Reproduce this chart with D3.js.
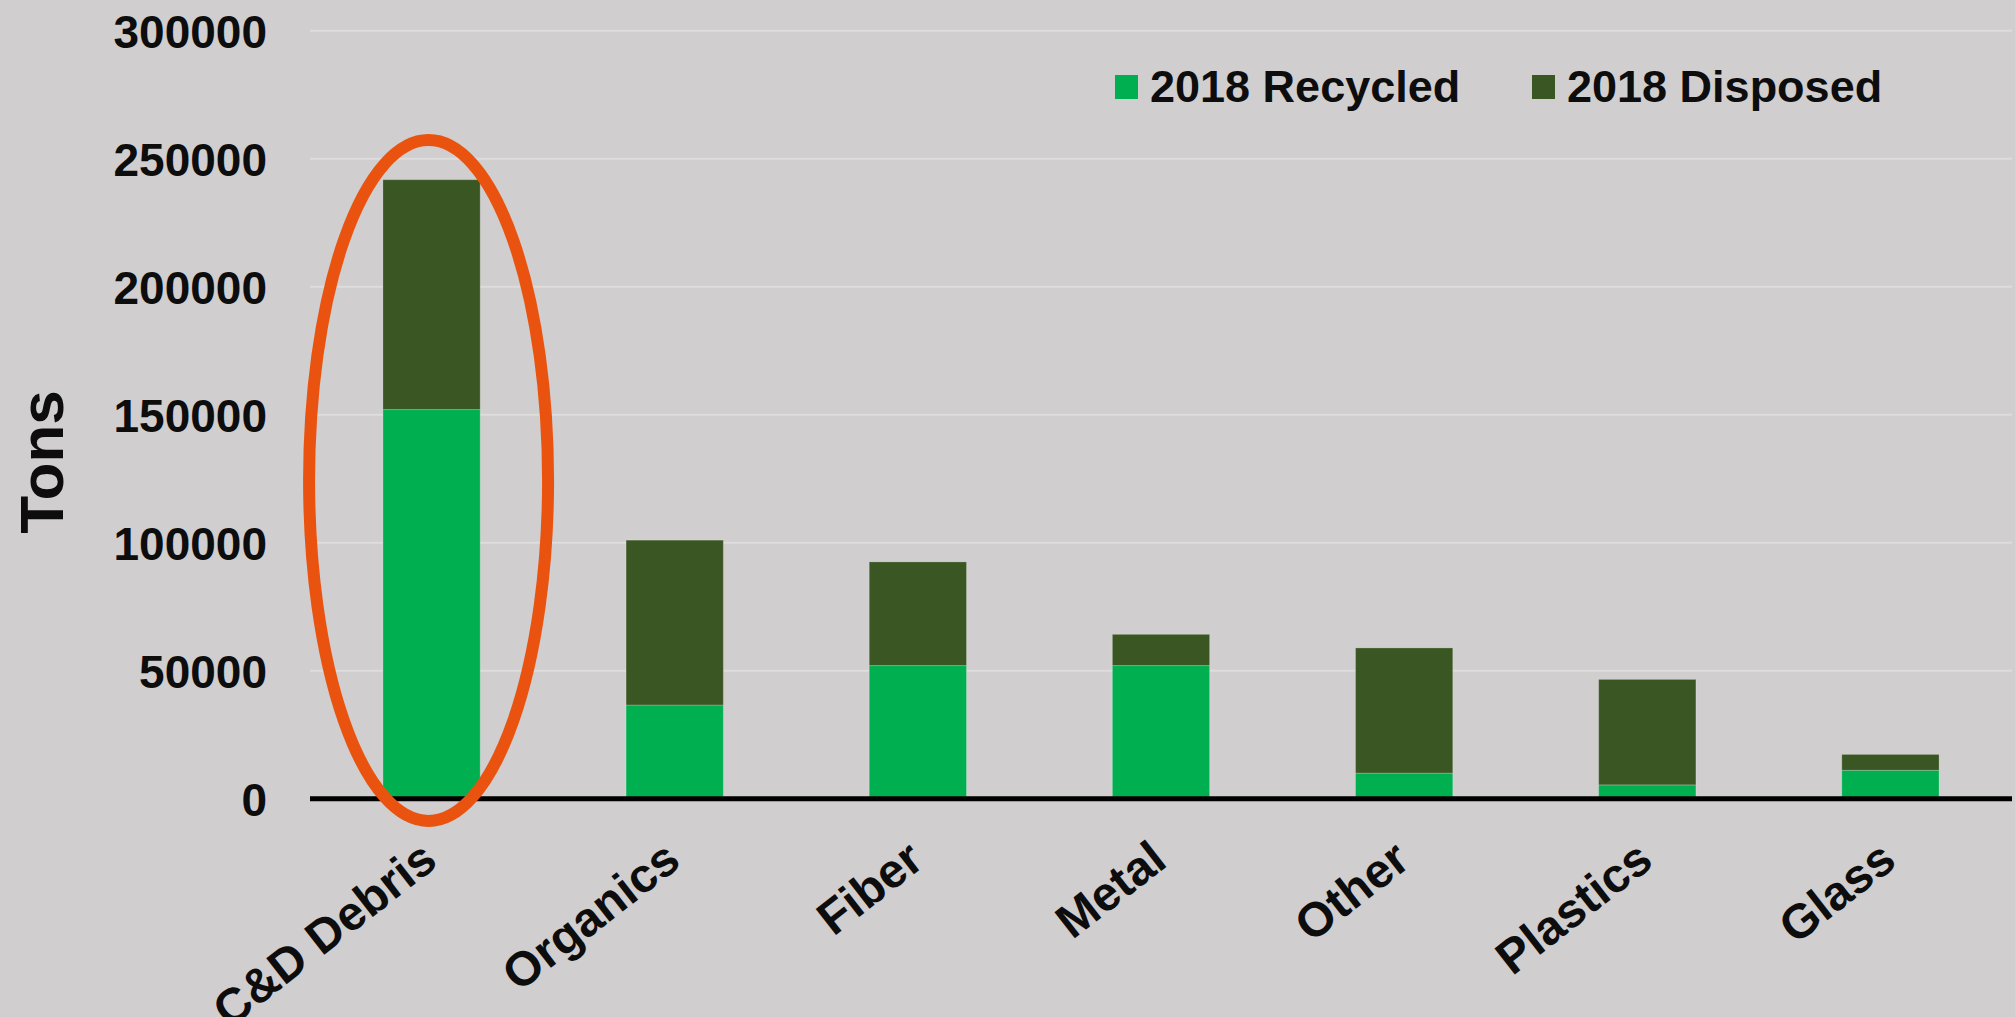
<!DOCTYPE html>
<html>
<head>
<meta charset="utf-8">
<script src="https://cdn.jsdelivr.net/npm/d3@7"></script>
<style>
  html, body { margin: 0; padding: 0; background: #d0cecf; }
  svg { display: block; }
  text { font-family: "Liberation Sans", Arial, sans-serif; font-weight: bold; fill: #0d0d0d; }
</style>
</head>
<body>
<script>
// Tonnage by material stream, 2018
const categories = ["C&D Debris", "Organics", "Fiber", "Metal", "Other", "Plastics", "Glass"];
const recycled = [152000, 36600, 52000, 52000, 10000, 5400, 11100];
const disposed = [89800, 64400, 40500, 12200, 48900, 41200, 6200];
const yTicks = [0, 50000, 100000, 150000, 200000, 250000, 300000];
const seriesNames = ["2018 Recycled", "2018 Disposed"];
const seriesColors = ["#00b050", "#3a5623"];

const W = 2015, H = 1017;
const plot = { left: 310, right: 2012, top: 30.7, bottom: 798.7 };

const svg = d3.select("body").append("svg")
  .attr("width", W).attr("height", H);

svg.append("rect").attr("width", W).attr("height", H).attr("fill", "#d0cecf");

const x = d3.scaleBand().domain(categories)
  .range([plot.left, plot.right]).paddingInner(0.6).paddingOuter(0.3);
const y = d3.scaleLinear().domain([0, 300000]).range([plot.bottom, plot.top]);

// horizontal gridlines
svg.append("g").selectAll("line")
  .data(yTicks.filter(d => d > 0))
  .join("line")
  .attr("x1", plot.left).attr("x2", plot.right)
  .attr("y1", d => y(d)).attr("y2", d => y(d))
  .attr("stroke", "#dedcdd").attr("stroke-width", 2);

// y axis labels
const yAxis = svg.append("g")
  .attr("transform", `translate(${plot.left - 43},0)`)
  .call(d3.axisLeft(y).tickValues(yTicks).tickSize(0).tickPadding(0).tickFormat(d3.format("d")));
yAxis.select(".domain").remove();
yAxis.selectAll("text")
  .attr("font-size", 46)
  .attr("font-family", "Liberation Sans, Arial, sans-serif")
  .attr("font-weight", "bold")
  .attr("fill", "#0d0d0d")
  .attr("dy", "0.36em");

// stacked bars
const rows = categories.map((c, i) => ({ category: c, recycled: recycled[i], disposed: disposed[i] }));
const stack = d3.stack().keys(["recycled", "disposed"])(rows);

svg.append("g").selectAll("g")
  .data(stack)
  .join("g")
  .attr("fill", (d, i) => seriesColors[i])
  .selectAll("rect")
  .data(d => d)
  .join("rect")
  .attr("x", d => x(d.data.category))
  .attr("width", x.bandwidth())
  .attr("y", d => y(d[1]))
  .attr("height", d => y(d[0]) - y(d[1]))
  .attr("stroke", "rgba(255,255,255,0.22)")
  .attr("stroke-width", 1);

// baseline
svg.append("line")
  .attr("x1", plot.left).attr("x2", plot.right)
  .attr("y1", y(0)).attr("y2", y(0))
  .attr("stroke", "#000").attr("stroke-width", 5);

// category labels, slanted
const xAxis = svg.append("g")
  .attr("transform", `translate(0,${y(0)})`)
  .call(d3.axisBottom(x).tickSize(0).tickPadding(0));
xAxis.select(".domain").remove();
xAxis.selectAll("text")
  .attr("font-size", 48)
  .attr("font-family", "Liberation Sans, Arial, sans-serif")
  .attr("font-weight", "bold")
  .attr("fill", "#0d0d0d")
  .attr("text-anchor", "end")
  .attr("dy", null)
  .attr("y", null)
  .attr("transform", "translate(8,66) rotate(-38)");

// highlight ring around the largest stream
const first = categories[0];
svg.append("ellipse")
  .attr("cx", x(first) + x.bandwidth() / 2 - 3)
  .attr("cy", (y(257300) + y(-8700)) / 2)
  .attr("rx", 119.5)
  .attr("ry", (y(-8700) - y(257300)) / 2)
  .attr("fill", "none")
  .attr("stroke", "#ea530f")
  .attr("stroke-width", 12);

// y axis title
svg.append("text")
  .attr("transform", "translate(63,462) rotate(-90)")
  .attr("text-anchor", "middle")
  .attr("font-size", 62)
  .text("Tons");

// legend
const legendX = [1115, 1532];
const legend = svg.append("g").selectAll("g")
  .data(seriesNames)
  .join("g")
  .attr("transform", (d, i) => `translate(${legendX[i]},0)`);
legend.append("rect")
  .attr("x", 0).attr("y", 75)
  .attr("width", 23).attr("height", 24)
  .attr("fill", (d, i) => seriesColors[i]);
legend.append("text")
  .attr("x", 35).attr("y", 101.5)
  .attr("font-size", 45)
  .text(d => d);
</script>
</body>
</html>
